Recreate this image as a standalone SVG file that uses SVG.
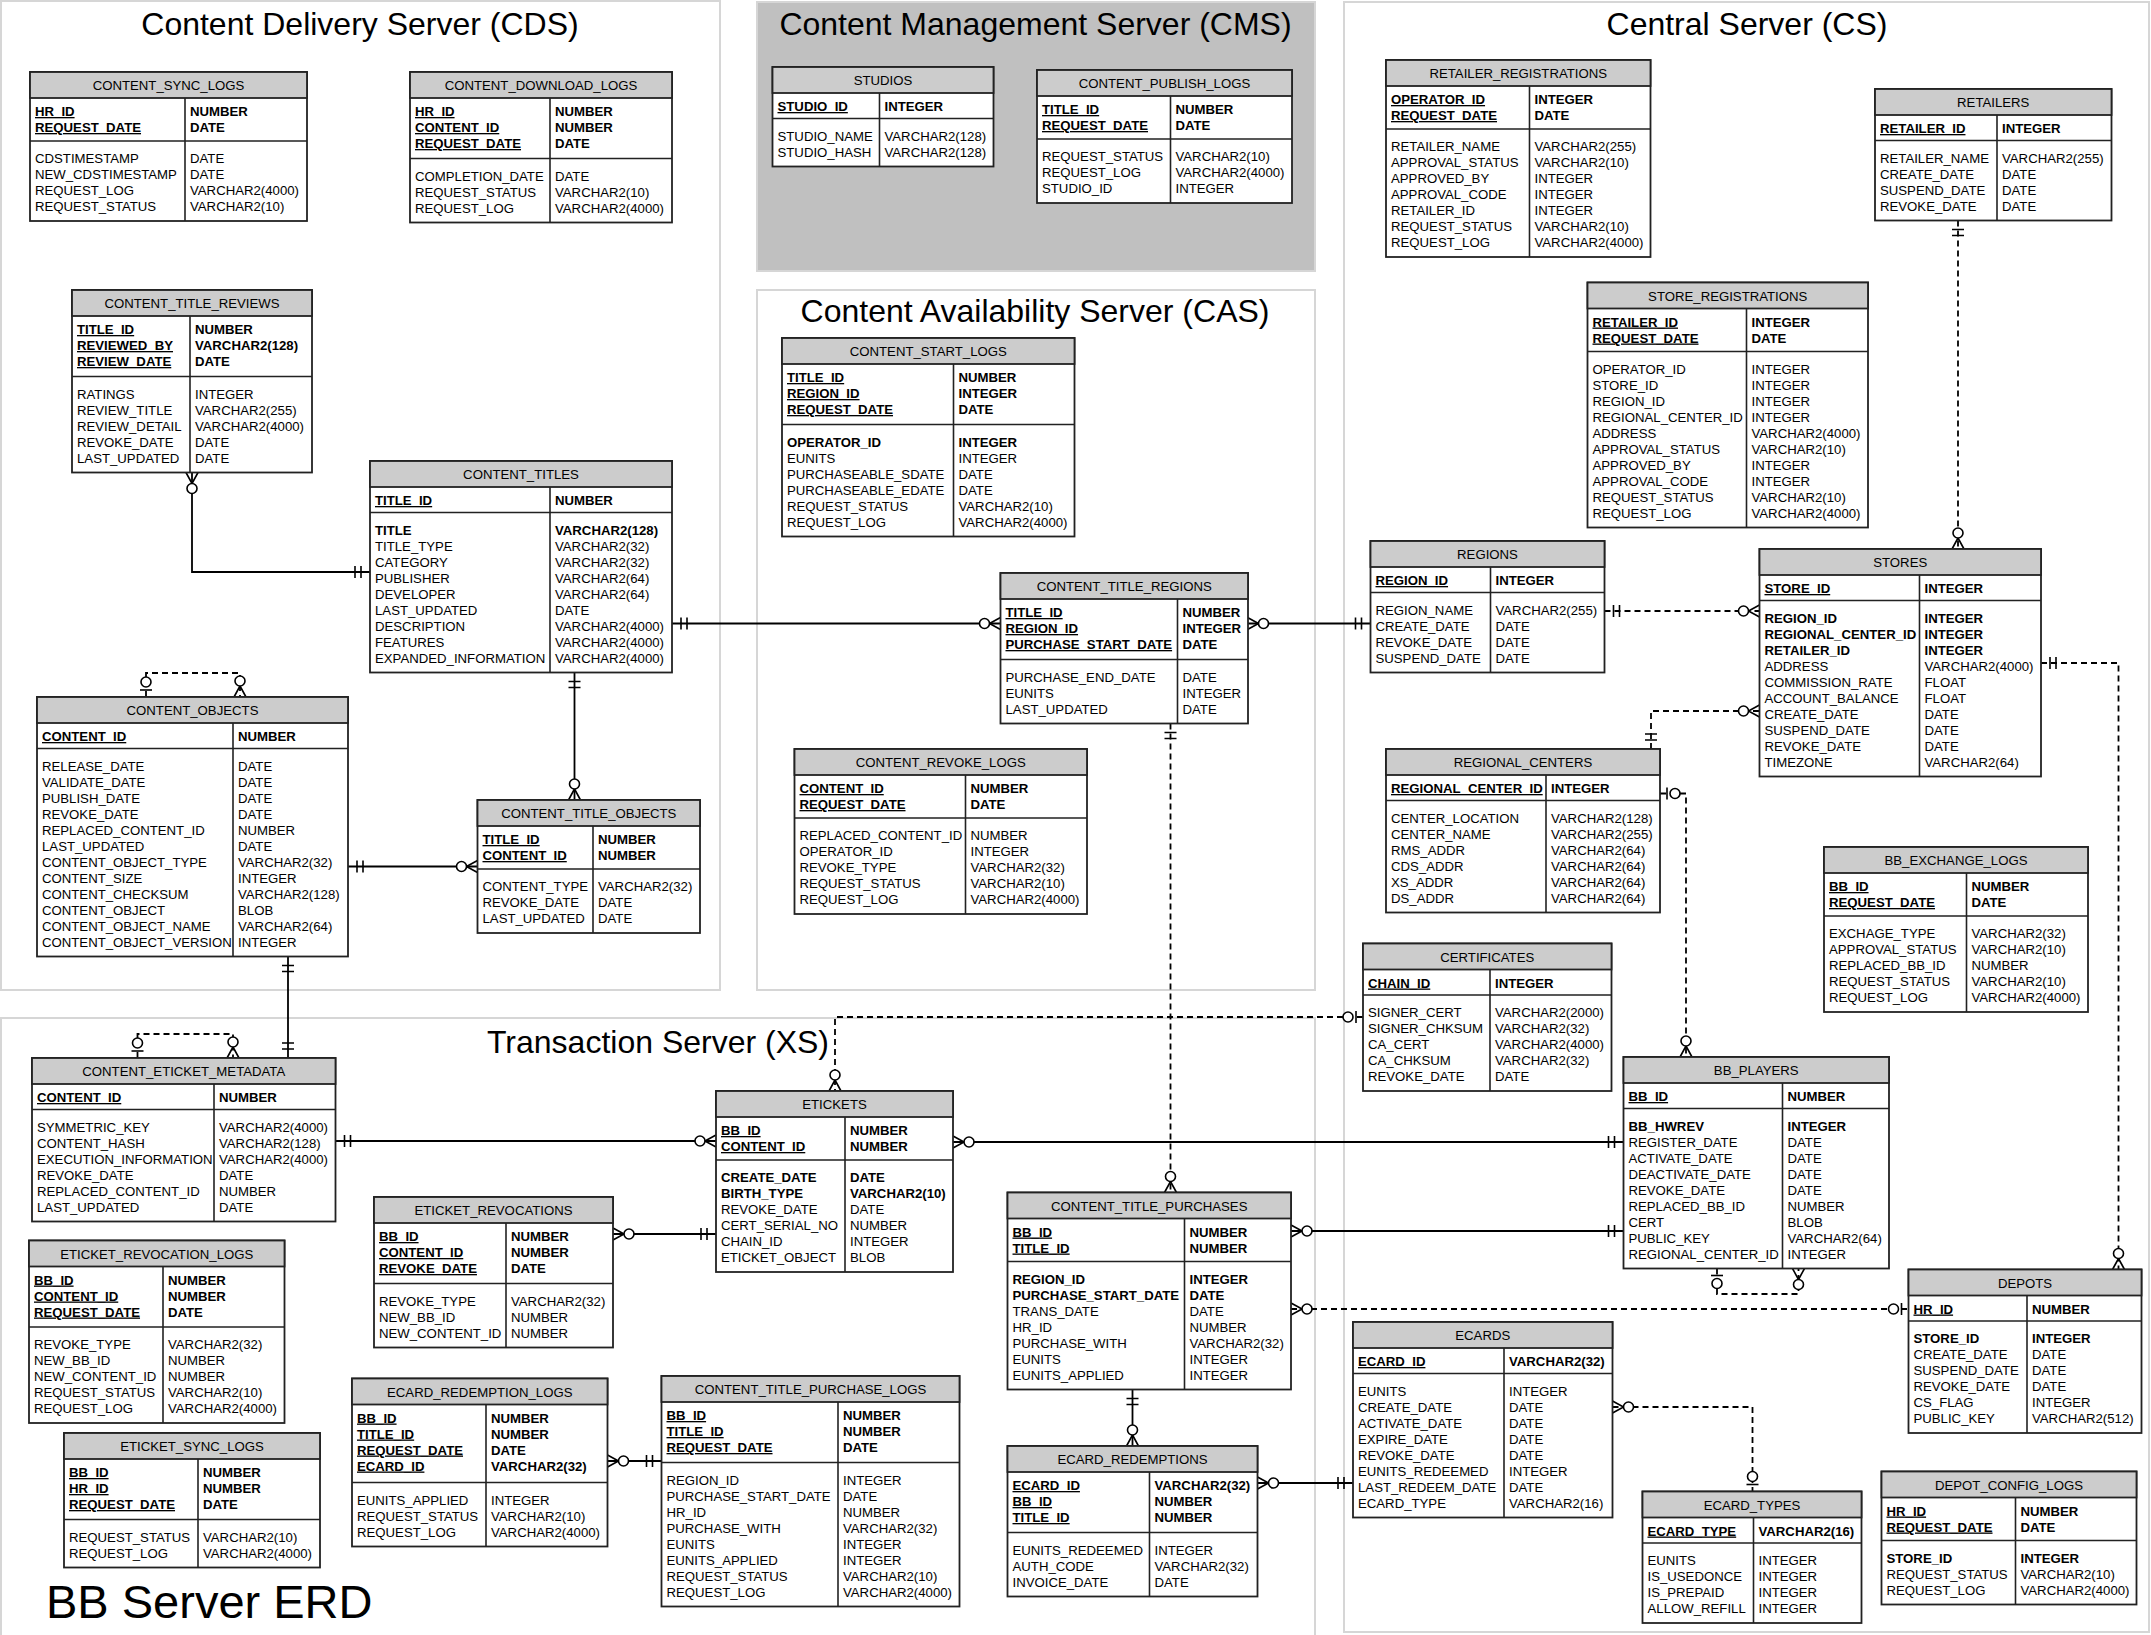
<svg xmlns="http://www.w3.org/2000/svg" width="2151" height="1635" viewBox="0 0 2151 1635">
<style>
.bx{fill:#fff;stroke:#222;stroke-width:1.8}
.hd{fill:#cccccc;stroke:#222;stroke-width:1.8}
.sep{fill:none;stroke:#222;stroke-width:1.6}
text{font-family:"Liberation Sans",Arial,sans-serif;font-size:13.2px;fill:#000}
.ht{text-anchor:middle}
.pk{font-weight:bold;text-decoration:underline}
.pt,.b{font-weight:bold}
.ttl{font-size:32px;text-anchor:middle;fill:#000}
.panel{fill:none;stroke:#d6d6d6;stroke-width:2}
.cms{fill:#c0c0c0;stroke:#d6d6d6;stroke-width:2}
.cn{fill:none;stroke:#000;stroke-width:1.8}
.dash{stroke-dasharray:6 4}
.mk{fill:none;stroke:#000;stroke-width:1.6}
.mc{fill:#fff;stroke:#000;stroke-width:1.6}
</style>
<defs>
<marker id="many" markerUnits="userSpaceOnUse" markerWidth="40" markerHeight="20" refX="0" refY="0" orient="auto-start-reverse" style="overflow:visible">
<path class="mk" d="M-11,0L0,-6M-11,0L0,6"/><circle class="mc" cx="-16" cy="0" r="5"/>
</marker>
<marker id="one" markerUnits="userSpaceOnUse" markerWidth="40" markerHeight="20" refX="0" refY="0" orient="auto-start-reverse" style="overflow:visible">
<path class="mk" d="M-9,-6V6M-15,-6V6"/>
</marker>
<marker id="zone" markerUnits="userSpaceOnUse" markerWidth="40" markerHeight="20" refX="0" refY="0" orient="auto-start-reverse" style="overflow:visible">
<path class="mk" d="M-7,-6V6"/><circle class="mc" cx="-15" cy="0" r="5"/>
</marker>
</defs>
<rect width="2151" height="1635" fill="#fff"/>
<g id="panels">
<rect class="panel" x="1" y="1" width="719" height="989"/>
<rect class="cms" x="757" y="2" width="558" height="269"/>
<rect class="panel" x="757" y="290" width="558" height="700"/>
<rect class="panel" x="1344" y="2" width="805" height="1630"/>
<rect class="panel" x="1" y="1018" width="1314" height="1614"/>
<text class="ttl" x="360" y="35">Content Delivery Server (CDS)</text>
<text class="ttl" x="1035.5" y="35">Content Management Server (CMS)</text>
<text class="ttl" x="1035" y="321.5">Content Availability Server (CAS)</text>
<text class="ttl" x="1747" y="35">Central Server (CS)</text>
<text class="ttl" x="658" y="1052.5">Transaction Server (XS)</text>
<text x="46" y="1618" style="font-size:47px;fill:#000">BB Server ERD</text>
</g>
<g id="connectors">
<path class="cn" d="M192,472.5V572H370" marker-start="url(#many)" marker-end="url(#one)"/>
<path class="cn" d="M672,623.5H1000.5" marker-start="url(#one)" marker-end="url(#many)"/>
<path class="cn" d="M574.5,672.5V800" marker-start="url(#one)" marker-end="url(#many)"/>
<path class="cn" d="M348,866.5H477.5" marker-start="url(#one)" marker-end="url(#many)"/>
<path class="cn dash" d="M146,697V673H240V697" marker-start="url(#zone)" marker-end="url(#many)"/>
<path class="cn" d="M288,956.5V1058" marker-start="url(#one)" marker-end="url(#one)"/>
<path class="cn dash" d="M137.5,1058V1034H233V1058" marker-start="url(#zone)" marker-end="url(#many)"/>
<path class="cn" d="M335.5,1141H716" marker-start="url(#one)" marker-end="url(#many)"/>
<path class="cn" d="M953,1142H1623.5" marker-start="url(#many)" marker-end="url(#one)"/>
<path class="cn" d="M613,1234H716" marker-start="url(#many)" marker-end="url(#one)"/>
<path class="cn" d="M607.5,1461H661.5" marker-start="url(#many)" marker-end="url(#one)"/>
<path class="cn" d="M1291,1231H1623.5" marker-start="url(#many)" marker-end="url(#one)"/>
<path class="cn dash" d="M1291,1309H1908.5" marker-start="url(#many)" marker-end="url(#zone)"/>
<path class="cn" d="M1132.5,1389.5V1446" marker-start="url(#one)" marker-end="url(#many)"/>
<path class="cn" d="M1257.5,1483H1353" marker-start="url(#many)" marker-end="url(#one)"/>
<path class="cn dash" d="M1612.5,1407H1752.5V1491.5" marker-start="url(#many)" marker-end="url(#zone)"/>
<path class="cn dash" d="M1717,1268.5V1294H1798.5V1268.5" marker-start="url(#zone)" marker-end="url(#many)"/>
<path class="cn dash" d="M1170.5,723.5V1192.5" marker-start="url(#one)" marker-end="url(#many)"/>
<path class="cn dash" d="M1363,1017H835V1091" marker-start="url(#zone)" marker-end="url(#many)"/>
<path class="cn dash" d="M1604.5,611H1759.5" marker-start="url(#one)" marker-end="url(#many)"/>
<path class="cn" d="M1247.5,623.5H1370.5" marker-start="url(#many)" marker-end="url(#one)"/>
<path class="cn dash" d="M1651,749V711H1759.5" marker-start="url(#one)" marker-end="url(#many)"/>
<path class="cn dash" d="M1660,793.5H1686V1057" marker-start="url(#zone)" marker-end="url(#many)"/>
<path class="cn dash" d="M2041,663H2118.5V1269.5" marker-start="url(#one)" marker-end="url(#many)"/>
<path class="cn dash" d="M1958,220.5V549" marker-start="url(#one)" marker-end="url(#many)"/>
</g>

<g id="content_sync_logs" transform="translate(30,72)">
<rect class="bx" width="277" height="149"/><rect class="hd" width="277" height="26"/>
<text class="ht" x="138.5" y="18">CONTENT_SYNC_LOGS</text>
<path class="sep" d="M0,69H277M155,26V149"/>
<text class="pk"><tspan x="5" y="44">HR_ID</tspan><tspan x="5" y="60">REQUEST_DATE</tspan></text>
<text class="pt"><tspan x="160" y="44">NUMBER</tspan><tspan x="160" y="60">DATE</tspan></text>
<text><tspan x="5" y="91">CDSTIMESTAMP</tspan><tspan x="5" y="107">NEW_CDSTIMESTAMP</tspan><tspan x="5" y="123">REQUEST_LOG</tspan><tspan x="5" y="139">REQUEST_STATUS</tspan></text>
<text><tspan x="160" y="91">DATE</tspan><tspan x="160" y="107">DATE</tspan><tspan x="160" y="123">VARCHAR2(4000)</tspan><tspan x="160" y="139">VARCHAR2(10)</tspan></text>
</g>

<g id="content_download_logs" transform="translate(410,72)">
<rect class="bx" width="262" height="150.5"/><rect class="hd" width="262" height="26"/>
<text class="ht" x="131" y="18">CONTENT_DOWNLOAD_LOGS</text>
<path class="sep" d="M0,86.5H262M140,26V150.5"/>
<text class="pk"><tspan x="5" y="44">HR_ID</tspan><tspan x="5" y="60">CONTENT_ID</tspan><tspan x="5" y="76">REQUEST_DATE</tspan></text>
<text class="pt"><tspan x="145" y="44">NUMBER</tspan><tspan x="145" y="60">NUMBER</tspan><tspan x="145" y="76">DATE</tspan></text>
<text><tspan x="5" y="108.5">COMPLETION_DATE</tspan><tspan x="5" y="124.5">REQUEST_STATUS</tspan><tspan x="5" y="140.5">REQUEST_LOG</tspan></text>
<text><tspan x="145" y="108.5">DATE</tspan><tspan x="145" y="124.5">VARCHAR2(10)</tspan><tspan x="145" y="140.5">VARCHAR2(4000)</tspan></text>
</g>

<g id="content_title_reviews" transform="translate(72,290)">
<rect class="bx" width="240" height="182.5"/><rect class="hd" width="240" height="26"/>
<text class="ht" x="120" y="18">CONTENT_TITLE_REVIEWS</text>
<path class="sep" d="M0,86.5H240M118,26V182.5"/>
<text class="pk"><tspan x="5" y="44">TITLE_ID</tspan><tspan x="5" y="60">REVIEWED_BY</tspan><tspan x="5" y="76">REVIEW_DATE</tspan></text>
<text class="pt"><tspan x="123" y="44">NUMBER</tspan><tspan x="123" y="60">VARCHAR2(128)</tspan><tspan x="123" y="76">DATE</tspan></text>
<text><tspan x="5" y="108.5">RATINGS</tspan><tspan x="5" y="124.5">REVIEW_TITLE</tspan><tspan x="5" y="140.5">REVIEW_DETAIL</tspan><tspan x="5" y="156.5">REVOKE_DATE</tspan><tspan x="5" y="172.5">LAST_UPDATED</tspan></text>
<text><tspan x="123" y="108.5">INTEGER</tspan><tspan x="123" y="124.5">VARCHAR2(255)</tspan><tspan x="123" y="140.5">VARCHAR2(4000)</tspan><tspan x="123" y="156.5">DATE</tspan><tspan x="123" y="172.5">DATE</tspan></text>
</g>

<g id="content_titles" transform="translate(370,461)">
<rect class="bx" width="302" height="211.5"/><rect class="hd" width="302" height="26"/>
<text class="ht" x="151" y="18">CONTENT_TITLES</text>
<path class="sep" d="M0,51.5H302M180,26V211.5"/>
<text class="pk"><tspan x="5" y="44">TITLE_ID</tspan></text>
<text class="pt"><tspan x="185" y="44">NUMBER</tspan></text>
<text><tspan x="5" y="73.5" class="b">TITLE</tspan><tspan x="5" y="89.5">TITLE_TYPE</tspan><tspan x="5" y="105.5">CATEGORY</tspan><tspan x="5" y="121.5">PUBLISHER</tspan><tspan x="5" y="137.5">DEVELOPER</tspan><tspan x="5" y="153.5">LAST_UPDATED</tspan><tspan x="5" y="169.5">DESCRIPTION</tspan><tspan x="5" y="185.5">FEATURES</tspan><tspan x="5" y="201.5">EXPANDED_INFORMATION</tspan></text>
<text><tspan x="185" y="73.5" class="b">VARCHAR2(128)</tspan><tspan x="185" y="89.5">VARCHAR2(32)</tspan><tspan x="185" y="105.5">VARCHAR2(32)</tspan><tspan x="185" y="121.5">VARCHAR2(64)</tspan><tspan x="185" y="137.5">VARCHAR2(64)</tspan><tspan x="185" y="153.5">DATE</tspan><tspan x="185" y="169.5">VARCHAR2(4000)</tspan><tspan x="185" y="185.5">VARCHAR2(4000)</tspan><tspan x="185" y="201.5">VARCHAR2(4000)</tspan></text>
</g>

<g id="content_objects" transform="translate(37,697)">
<rect class="bx" width="311" height="259.5"/><rect class="hd" width="311" height="26"/>
<text class="ht" x="155.5" y="18">CONTENT_OBJECTS</text>
<path class="sep" d="M0,51.5H311M196,26V259.5"/>
<text class="pk"><tspan x="5" y="44">CONTENT_ID</tspan></text>
<text class="pt"><tspan x="201" y="44">NUMBER</tspan></text>
<text><tspan x="5" y="73.5">RELEASE_DATE</tspan><tspan x="5" y="89.5">VALIDATE_DATE</tspan><tspan x="5" y="105.5">PUBLISH_DATE</tspan><tspan x="5" y="121.5">REVOKE_DATE</tspan><tspan x="5" y="137.5">REPLACED_CONTENT_ID</tspan><tspan x="5" y="153.5">LAST_UPDATED</tspan><tspan x="5" y="169.5">CONTENT_OBJECT_TYPE</tspan><tspan x="5" y="185.5">CONTENT_SIZE</tspan><tspan x="5" y="201.5">CONTENT_CHECKSUM</tspan><tspan x="5" y="217.5">CONTENT_OBJECT</tspan><tspan x="5" y="233.5">CONTENT_OBJECT_NAME</tspan><tspan x="5" y="249.5">CONTENT_OBJECT_VERSION</tspan></text>
<text><tspan x="201" y="73.5">DATE</tspan><tspan x="201" y="89.5">DATE</tspan><tspan x="201" y="105.5">DATE</tspan><tspan x="201" y="121.5">DATE</tspan><tspan x="201" y="137.5">NUMBER</tspan><tspan x="201" y="153.5">DATE</tspan><tspan x="201" y="169.5">VARCHAR2(32)</tspan><tspan x="201" y="185.5">INTEGER</tspan><tspan x="201" y="201.5">VARCHAR2(128)</tspan><tspan x="201" y="217.5">BLOB</tspan><tspan x="201" y="233.5">VARCHAR2(64)</tspan><tspan x="201" y="249.5">INTEGER</tspan></text>
</g>

<g id="content_title_objects" transform="translate(477.5,800)">
<rect class="bx" width="222.5" height="133"/><rect class="hd" width="222.5" height="26"/>
<text class="ht" x="111.25" y="18">CONTENT_TITLE_OBJECTS</text>
<path class="sep" d="M0,69H222.5M115.5,26V133"/>
<text class="pk"><tspan x="5" y="44">TITLE_ID</tspan><tspan x="5" y="60">CONTENT_ID</tspan></text>
<text class="pt"><tspan x="120.5" y="44">NUMBER</tspan><tspan x="120.5" y="60">NUMBER</tspan></text>
<text><tspan x="5" y="91">CONTENT_TYPE</tspan><tspan x="5" y="107">REVOKE_DATE</tspan><tspan x="5" y="123">LAST_UPDATED</tspan></text>
<text><tspan x="120.5" y="91">VARCHAR2(32)</tspan><tspan x="120.5" y="107">DATE</tspan><tspan x="120.5" y="123">DATE</tspan></text>
</g>

<g id="content_eticket_metadata" transform="translate(32,1058)">
<rect class="bx" width="303.5" height="163.5"/><rect class="hd" width="303.5" height="26"/>
<text class="ht" x="151.75" y="18">CONTENT_ETICKET_METADATA</text>
<path class="sep" d="M0,51.5H303.5M182,26V163.5"/>
<text class="pk"><tspan x="5" y="44">CONTENT_ID</tspan></text>
<text class="pt"><tspan x="187" y="44">NUMBER</tspan></text>
<text><tspan x="5" y="73.5">SYMMETRIC_KEY</tspan><tspan x="5" y="89.5">CONTENT_HASH</tspan><tspan x="5" y="105.5">EXECUTION_INFORMATION</tspan><tspan x="5" y="121.5">REVOKE_DATE</tspan><tspan x="5" y="137.5">REPLACED_CONTENT_ID</tspan><tspan x="5" y="153.5">LAST_UPDATED</tspan></text>
<text><tspan x="187" y="73.5">VARCHAR2(4000)</tspan><tspan x="187" y="89.5">VARCHAR2(128)</tspan><tspan x="187" y="105.5">VARCHAR2(4000)</tspan><tspan x="187" y="121.5">DATE</tspan><tspan x="187" y="137.5">NUMBER</tspan><tspan x="187" y="153.5">DATE</tspan></text>
</g>

<g id="eticket_revocation_logs" transform="translate(29,1240.5)">
<rect class="bx" width="255.5" height="182.5"/><rect class="hd" width="255.5" height="26"/>
<text class="ht" x="127.75" y="18">ETICKET_REVOCATION_LOGS</text>
<path class="sep" d="M0,86.5H255.5M134,26V182.5"/>
<text class="pk"><tspan x="5" y="44">BB_ID</tspan><tspan x="5" y="60">CONTENT_ID</tspan><tspan x="5" y="76">REQUEST_DATE</tspan></text>
<text class="pt"><tspan x="139" y="44">NUMBER</tspan><tspan x="139" y="60">NUMBER</tspan><tspan x="139" y="76">DATE</tspan></text>
<text><tspan x="5" y="108.5">REVOKE_TYPE</tspan><tspan x="5" y="124.5">NEW_BB_ID</tspan><tspan x="5" y="140.5">NEW_CONTENT_ID</tspan><tspan x="5" y="156.5">REQUEST_STATUS</tspan><tspan x="5" y="172.5">REQUEST_LOG</tspan></text>
<text><tspan x="139" y="108.5">VARCHAR2(32)</tspan><tspan x="139" y="124.5">NUMBER</tspan><tspan x="139" y="140.5">NUMBER</tspan><tspan x="139" y="156.5">VARCHAR2(10)</tspan><tspan x="139" y="172.5">VARCHAR2(4000)</tspan></text>
</g>

<g id="eticket_sync_logs" transform="translate(64,1433)">
<rect class="bx" width="256" height="134.5"/><rect class="hd" width="256" height="26"/>
<text class="ht" x="128" y="18">ETICKET_SYNC_LOGS</text>
<path class="sep" d="M0,86.5H256M134,26V134.5"/>
<text class="pk"><tspan x="5" y="44">BB_ID</tspan><tspan x="5" y="60">HR_ID</tspan><tspan x="5" y="76">REQUEST_DATE</tspan></text>
<text class="pt"><tspan x="139" y="44">NUMBER</tspan><tspan x="139" y="60">NUMBER</tspan><tspan x="139" y="76">DATE</tspan></text>
<text><tspan x="5" y="108.5">REQUEST_STATUS</tspan><tspan x="5" y="124.5">REQUEST_LOG</tspan></text>
<text><tspan x="139" y="108.5">VARCHAR2(10)</tspan><tspan x="139" y="124.5">VARCHAR2(4000)</tspan></text>
</g>

<g id="eticket_revocations" transform="translate(374,1197)">
<rect class="bx" width="239" height="150.5"/><rect class="hd" width="239" height="26"/>
<text class="ht" x="119.5" y="18">ETICKET_REVOCATIONS</text>
<path class="sep" d="M0,86.5H239M132,26V150.5"/>
<text class="pk"><tspan x="5" y="44">BB_ID</tspan><tspan x="5" y="60">CONTENT_ID</tspan><tspan x="5" y="76">REVOKE_DATE</tspan></text>
<text class="pt"><tspan x="137" y="44">NUMBER</tspan><tspan x="137" y="60">NUMBER</tspan><tspan x="137" y="76">DATE</tspan></text>
<text><tspan x="5" y="108.5">REVOKE_TYPE</tspan><tspan x="5" y="124.5">NEW_BB_ID</tspan><tspan x="5" y="140.5">NEW_CONTENT_ID</tspan></text>
<text><tspan x="137" y="108.5">VARCHAR2(32)</tspan><tspan x="137" y="124.5">NUMBER</tspan><tspan x="137" y="140.5">NUMBER</tspan></text>
</g>

<g id="ecard_redemption_logs" transform="translate(352,1378.5)">
<rect class="bx" width="255.5" height="168"/><rect class="hd" width="255.5" height="26"/>
<text class="ht" x="127.75" y="18">ECARD_REDEMPTION_LOGS</text>
<path class="sep" d="M0,104H255.5M134,26V168"/>
<text class="pk"><tspan x="5" y="44">BB_ID</tspan><tspan x="5" y="60">TITLE_ID</tspan><tspan x="5" y="76">REQUEST_DATE</tspan><tspan x="5" y="92">ECARD_ID</tspan></text>
<text class="pt"><tspan x="139" y="44">NUMBER</tspan><tspan x="139" y="60">NUMBER</tspan><tspan x="139" y="76">DATE</tspan><tspan x="139" y="92">VARCHAR2(32)</tspan></text>
<text><tspan x="5" y="126">EUNITS_APPLIED</tspan><tspan x="5" y="142">REQUEST_STATUS</tspan><tspan x="5" y="158">REQUEST_LOG</tspan></text>
<text><tspan x="139" y="126">INTEGER</tspan><tspan x="139" y="142">VARCHAR2(10)</tspan><tspan x="139" y="158">VARCHAR2(4000)</tspan></text>
</g>

<g id="content_title_purchase_logs" transform="translate(661.5,1376)">
<rect class="bx" width="298" height="230.5"/><rect class="hd" width="298" height="26"/>
<text class="ht" x="149" y="18">CONTENT_TITLE_PURCHASE_LOGS</text>
<path class="sep" d="M0,86.5H298M176.5,26V230.5"/>
<text class="pk"><tspan x="5" y="44">BB_ID</tspan><tspan x="5" y="60">TITLE_ID</tspan><tspan x="5" y="76">REQUEST_DATE</tspan></text>
<text class="pt"><tspan x="181.5" y="44">NUMBER</tspan><tspan x="181.5" y="60">NUMBER</tspan><tspan x="181.5" y="76">DATE</tspan></text>
<text><tspan x="5" y="108.5">REGION_ID</tspan><tspan x="5" y="124.5">PURCHASE_START_DATE</tspan><tspan x="5" y="140.5">HR_ID</tspan><tspan x="5" y="156.5">PURCHASE_WITH</tspan><tspan x="5" y="172.5">EUNITS</tspan><tspan x="5" y="188.5">EUNITS_APPLIED</tspan><tspan x="5" y="204.5">REQUEST_STATUS</tspan><tspan x="5" y="220.5">REQUEST_LOG</tspan></text>
<text><tspan x="181.5" y="108.5">INTEGER</tspan><tspan x="181.5" y="124.5">DATE</tspan><tspan x="181.5" y="140.5">NUMBER</tspan><tspan x="181.5" y="156.5">VARCHAR2(32)</tspan><tspan x="181.5" y="172.5">INTEGER</tspan><tspan x="181.5" y="188.5">INTEGER</tspan><tspan x="181.5" y="204.5">VARCHAR2(10)</tspan><tspan x="181.5" y="220.5">VARCHAR2(4000)</tspan></text>
</g>

<g id="etickets" transform="translate(716,1091)">
<rect class="bx" width="237" height="181"/><rect class="hd" width="237" height="26"/>
<text class="ht" x="118.5" y="18">ETICKETS</text>
<path class="sep" d="M0,69H237M129,26V181"/>
<text class="pk"><tspan x="5" y="44">BB_ID</tspan><tspan x="5" y="60">CONTENT_ID</tspan></text>
<text class="pt"><tspan x="134" y="44">NUMBER</tspan><tspan x="134" y="60">NUMBER</tspan></text>
<text><tspan x="5" y="91" class="b">CREATE_DATE</tspan><tspan x="5" y="107" class="b">BIRTH_TYPE</tspan><tspan x="5" y="123">REVOKE_DATE</tspan><tspan x="5" y="139">CERT_SERIAL_NO</tspan><tspan x="5" y="155">CHAIN_ID</tspan><tspan x="5" y="171">ETICKET_OBJECT</tspan></text>
<text><tspan x="134" y="91" class="b">DATE</tspan><tspan x="134" y="107" class="b">VARCHAR2(10)</tspan><tspan x="134" y="123">DATE</tspan><tspan x="134" y="139">NUMBER</tspan><tspan x="134" y="155">INTEGER</tspan><tspan x="134" y="171">BLOB</tspan></text>
</g>

<g id="content_title_purchases" transform="translate(1007.5,1192.5)">
<rect class="bx" width="283.5" height="197"/><rect class="hd" width="283.5" height="26"/>
<text class="ht" x="141.75" y="18">CONTENT_TITLE_PURCHASES</text>
<path class="sep" d="M0,69H283.5M177,26V197"/>
<text class="pk"><tspan x="5" y="44">BB_ID</tspan><tspan x="5" y="60">TITLE_ID</tspan></text>
<text class="pt"><tspan x="182" y="44">NUMBER</tspan><tspan x="182" y="60">NUMBER</tspan></text>
<text><tspan x="5" y="91" class="b">REGION_ID</tspan><tspan x="5" y="107" class="b">PURCHASE_START_DATE</tspan><tspan x="5" y="123">TRANS_DATE</tspan><tspan x="5" y="139">HR_ID</tspan><tspan x="5" y="155">PURCHASE_WITH</tspan><tspan x="5" y="171">EUNITS</tspan><tspan x="5" y="187">EUNITS_APPLIED</tspan></text>
<text><tspan x="182" y="91" class="b">INTEGER</tspan><tspan x="182" y="107" class="b">DATE</tspan><tspan x="182" y="123">DATE</tspan><tspan x="182" y="139">NUMBER</tspan><tspan x="182" y="155">VARCHAR2(32)</tspan><tspan x="182" y="171">INTEGER</tspan><tspan x="182" y="187">INTEGER</tspan></text>
</g>

<g id="ecard_redemptions" transform="translate(1007.5,1446)">
<rect class="bx" width="250" height="150.5"/><rect class="hd" width="250" height="26"/>
<text class="ht" x="125" y="18">ECARD_REDEMPTIONS</text>
<path class="sep" d="M0,86.5H250M142,26V150.5"/>
<text class="pk"><tspan x="5" y="44">ECARD_ID</tspan><tspan x="5" y="60">BB_ID</tspan><tspan x="5" y="76">TITLE_ID</tspan></text>
<text class="pt"><tspan x="147" y="44">VARCHAR2(32)</tspan><tspan x="147" y="60">NUMBER</tspan><tspan x="147" y="76">NUMBER</tspan></text>
<text><tspan x="5" y="108.5">EUNITS_REDEEMED</tspan><tspan x="5" y="124.5">AUTH_CODE</tspan><tspan x="5" y="140.5">INVOICE_DATE</tspan></text>
<text><tspan x="147" y="108.5">INTEGER</tspan><tspan x="147" y="124.5">VARCHAR2(32)</tspan><tspan x="147" y="140.5">DATE</tspan></text>
</g>

<g id="ecards" transform="translate(1353,1322)">
<rect class="bx" width="259.5" height="195.5"/><rect class="hd" width="259.5" height="26"/>
<text class="ht" x="129.75" y="18">ECARDS</text>
<path class="sep" d="M0,51.5H259.5M151,26V195.5"/>
<text class="pk"><tspan x="5" y="44">ECARD_ID</tspan></text>
<text class="pt"><tspan x="156" y="44">VARCHAR2(32)</tspan></text>
<text><tspan x="5" y="73.5">EUNITS</tspan><tspan x="5" y="89.5">CREATE_DATE</tspan><tspan x="5" y="105.5">ACTIVATE_DATE</tspan><tspan x="5" y="121.5">EXPIRE_DATE</tspan><tspan x="5" y="137.5">REVOKE_DATE</tspan><tspan x="5" y="153.5">EUNITS_REDEEMED</tspan><tspan x="5" y="169.5">LAST_REDEEM_DATE</tspan><tspan x="5" y="185.5">ECARD_TYPE</tspan></text>
<text><tspan x="156" y="73.5">INTEGER</tspan><tspan x="156" y="89.5">DATE</tspan><tspan x="156" y="105.5">DATE</tspan><tspan x="156" y="121.5">DATE</tspan><tspan x="156" y="137.5">DATE</tspan><tspan x="156" y="153.5">INTEGER</tspan><tspan x="156" y="169.5">DATE</tspan><tspan x="156" y="185.5">VARCHAR2(16)</tspan></text>
</g>

<g id="ecard_types" transform="translate(1642.5,1491.5)">
<rect class="bx" width="219" height="131.5"/><rect class="hd" width="219" height="26"/>
<text class="ht" x="109.5" y="18">ECARD_TYPES</text>
<path class="sep" d="M0,51.5H219M111,26V131.5"/>
<text class="pk"><tspan x="5" y="44">ECARD_TYPE</tspan></text>
<text class="pt"><tspan x="116" y="44">VARCHAR2(16)</tspan></text>
<text><tspan x="5" y="73.5">EUNITS</tspan><tspan x="5" y="89.5">IS_USEDONCE</tspan><tspan x="5" y="105.5">IS_PREPAID</tspan><tspan x="5" y="121.5">ALLOW_REFILL</tspan></text>
<text><tspan x="116" y="73.5">INTEGER</tspan><tspan x="116" y="89.5">INTEGER</tspan><tspan x="116" y="105.5">INTEGER</tspan><tspan x="116" y="121.5">INTEGER</tspan></text>
</g>

<g id="depot_config_logs" transform="translate(1881.5,1471.5)">
<rect class="bx" width="255" height="133"/><rect class="hd" width="255" height="26"/>
<text class="ht" x="127.5" y="18">DEPOT_CONFIG_LOGS</text>
<path class="sep" d="M0,69H255M134,26V133"/>
<text class="pk"><tspan x="5" y="44">HR_ID</tspan><tspan x="5" y="60">REQUEST_DATE</tspan></text>
<text class="pt"><tspan x="139" y="44">NUMBER</tspan><tspan x="139" y="60">DATE</tspan></text>
<text><tspan x="5" y="91" class="b">STORE_ID</tspan><tspan x="5" y="107">REQUEST_STATUS</tspan><tspan x="5" y="123">REQUEST_LOG</tspan></text>
<text><tspan x="139" y="91" class="b">INTEGER</tspan><tspan x="139" y="107">VARCHAR2(10)</tspan><tspan x="139" y="123">VARCHAR2(4000)</tspan></text>
</g>

<g id="depots" transform="translate(1908.5,1269.5)">
<rect class="bx" width="233" height="163.5"/><rect class="hd" width="233" height="26"/>
<text class="ht" x="116.5" y="18">DEPOTS</text>
<path class="sep" d="M0,51.5H233M118.5,26V163.5"/>
<text class="pk"><tspan x="5" y="44">HR_ID</tspan></text>
<text class="pt"><tspan x="123.5" y="44">NUMBER</tspan></text>
<text><tspan x="5" y="73.5" class="b">STORE_ID</tspan><tspan x="5" y="89.5">CREATE_DATE</tspan><tspan x="5" y="105.5">SUSPEND_DATE</tspan><tspan x="5" y="121.5">REVOKE_DATE</tspan><tspan x="5" y="137.5">CS_FLAG</tspan><tspan x="5" y="153.5">PUBLIC_KEY</tspan></text>
<text><tspan x="123.5" y="73.5" class="b">INTEGER</tspan><tspan x="123.5" y="89.5">DATE</tspan><tspan x="123.5" y="105.5">DATE</tspan><tspan x="123.5" y="121.5">DATE</tspan><tspan x="123.5" y="137.5">INTEGER</tspan><tspan x="123.5" y="153.5">VARCHAR2(512)</tspan></text>
</g>

<g id="bb_players" transform="translate(1623.5,1057)">
<rect class="bx" width="265.5" height="211.5"/><rect class="hd" width="265.5" height="26"/>
<text class="ht" x="132.75" y="18">BB_PLAYERS</text>
<path class="sep" d="M0,51.5H265.5M159,26V211.5"/>
<text class="pk"><tspan x="5" y="44">BB_ID</tspan></text>
<text class="pt"><tspan x="164" y="44">NUMBER</tspan></text>
<text><tspan x="5" y="73.5" class="b">BB_HWREV</tspan><tspan x="5" y="89.5">REGISTER_DATE</tspan><tspan x="5" y="105.5">ACTIVATE_DATE</tspan><tspan x="5" y="121.5">DEACTIVATE_DATE</tspan><tspan x="5" y="137.5">REVOKE_DATE</tspan><tspan x="5" y="153.5">REPLACED_BB_ID</tspan><tspan x="5" y="169.5">CERT</tspan><tspan x="5" y="185.5">PUBLIC_KEY</tspan><tspan x="5" y="201.5">REGIONAL_CENTER_ID</tspan></text>
<text><tspan x="164" y="73.5" class="b">INTEGER</tspan><tspan x="164" y="89.5">DATE</tspan><tspan x="164" y="105.5">DATE</tspan><tspan x="164" y="121.5">DATE</tspan><tspan x="164" y="137.5">DATE</tspan><tspan x="164" y="153.5">NUMBER</tspan><tspan x="164" y="169.5">BLOB</tspan><tspan x="164" y="185.5">VARCHAR2(64)</tspan><tspan x="164" y="201.5">INTEGER</tspan></text>
</g>

<g id="certificates" transform="translate(1363,943.5)">
<rect class="bx" width="248.5" height="147.5"/><rect class="hd" width="248.5" height="26"/>
<text class="ht" x="124.25" y="18">CERTIFICATES</text>
<path class="sep" d="M0,51.5H248.5M127,26V147.5"/>
<text class="pk"><tspan x="5" y="44">CHAIN_ID</tspan></text>
<text class="pt"><tspan x="132" y="44">INTEGER</tspan></text>
<text><tspan x="5" y="73.5">SIGNER_CERT</tspan><tspan x="5" y="89.5">SIGNER_CHKSUM</tspan><tspan x="5" y="105.5">CA_CERT</tspan><tspan x="5" y="121.5">CA_CHKSUM</tspan><tspan x="5" y="137.5">REVOKE_DATE</tspan></text>
<text><tspan x="132" y="73.5">VARCHAR2(2000)</tspan><tspan x="132" y="89.5">VARCHAR2(32)</tspan><tspan x="132" y="105.5">VARCHAR2(4000)</tspan><tspan x="132" y="121.5">VARCHAR2(32)</tspan><tspan x="132" y="137.5">DATE</tspan></text>
</g>

<g id="regional_centers" transform="translate(1386,749)">
<rect class="bx" width="274" height="163.5"/><rect class="hd" width="274" height="26"/>
<text class="ht" x="137" y="18">REGIONAL_CENTERS</text>
<path class="sep" d="M0,51.5H274M160,26V163.5"/>
<text class="pk"><tspan x="5" y="44">REGIONAL_CENTER_ID</tspan></text>
<text class="pt"><tspan x="165" y="44">INTEGER</tspan></text>
<text><tspan x="5" y="73.5">CENTER_LOCATION</tspan><tspan x="5" y="89.5">CENTER_NAME</tspan><tspan x="5" y="105.5">RMS_ADDR</tspan><tspan x="5" y="121.5">CDS_ADDR</tspan><tspan x="5" y="137.5">XS_ADDR</tspan><tspan x="5" y="153.5">DS_ADDR</tspan></text>
<text><tspan x="165" y="73.5">VARCHAR2(128)</tspan><tspan x="165" y="89.5">VARCHAR2(255)</tspan><tspan x="165" y="105.5">VARCHAR2(64)</tspan><tspan x="165" y="121.5">VARCHAR2(64)</tspan><tspan x="165" y="137.5">VARCHAR2(64)</tspan><tspan x="165" y="153.5">VARCHAR2(64)</tspan></text>
</g>

<g id="regions" transform="translate(1370.5,541)">
<rect class="bx" width="234" height="131.5"/><rect class="hd" width="234" height="26"/>
<text class="ht" x="117" y="18">REGIONS</text>
<path class="sep" d="M0,51.5H234M120,26V131.5"/>
<text class="pk"><tspan x="5" y="44">REGION_ID</tspan></text>
<text class="pt"><tspan x="125" y="44">INTEGER</tspan></text>
<text><tspan x="5" y="73.5">REGION_NAME</tspan><tspan x="5" y="89.5">CREATE_DATE</tspan><tspan x="5" y="105.5">REVOKE_DATE</tspan><tspan x="5" y="121.5">SUSPEND_DATE</tspan></text>
<text><tspan x="125" y="73.5">VARCHAR2(255)</tspan><tspan x="125" y="89.5">DATE</tspan><tspan x="125" y="105.5">DATE</tspan><tspan x="125" y="121.5">DATE</tspan></text>
</g>

<g id="stores" transform="translate(1759.5,549)">
<rect class="bx" width="281.5" height="227.5"/><rect class="hd" width="281.5" height="26"/>
<text class="ht" x="140.75" y="18">STORES</text>
<path class="sep" d="M0,51.5H281.5M160,26V227.5"/>
<text class="pk"><tspan x="5" y="44">STORE_ID</tspan></text>
<text class="pt"><tspan x="165" y="44">INTEGER</tspan></text>
<text><tspan x="5" y="73.5" class="b">REGION_ID</tspan><tspan x="5" y="89.5" class="b">REGIONAL_CENTER_ID</tspan><tspan x="5" y="105.5" class="b">RETAILER_ID</tspan><tspan x="5" y="121.5">ADDRESS</tspan><tspan x="5" y="137.5">COMMISSION_RATE</tspan><tspan x="5" y="153.5">ACCOUNT_BALANCE</tspan><tspan x="5" y="169.5">CREATE_DATE</tspan><tspan x="5" y="185.5">SUSPEND_DATE</tspan><tspan x="5" y="201.5">REVOKE_DATE</tspan><tspan x="5" y="217.5">TIMEZONE</tspan></text>
<text><tspan x="165" y="73.5" class="b">INTEGER</tspan><tspan x="165" y="89.5" class="b">INTEGER</tspan><tspan x="165" y="105.5" class="b">INTEGER</tspan><tspan x="165" y="121.5">VARCHAR2(4000)</tspan><tspan x="165" y="137.5">FLOAT</tspan><tspan x="165" y="153.5">FLOAT</tspan><tspan x="165" y="169.5">DATE</tspan><tspan x="165" y="185.5">DATE</tspan><tspan x="165" y="201.5">DATE</tspan><tspan x="165" y="217.5">VARCHAR2(64)</tspan></text>
</g>

<g id="bb_exchange_logs" transform="translate(1824,847)">
<rect class="bx" width="264" height="165"/><rect class="hd" width="264" height="26"/>
<text class="ht" x="132" y="18">BB_EXCHANGE_LOGS</text>
<path class="sep" d="M0,69H264M142.5,26V165"/>
<text class="pk"><tspan x="5" y="44">BB_ID</tspan><tspan x="5" y="60">REQUEST_DATE</tspan></text>
<text class="pt"><tspan x="147.5" y="44">NUMBER</tspan><tspan x="147.5" y="60">DATE</tspan></text>
<text><tspan x="5" y="91">EXCHAGE_TYPE</tspan><tspan x="5" y="107">APPROVAL_STATUS</tspan><tspan x="5" y="123">REPLACED_BB_ID</tspan><tspan x="5" y="139">REQUEST_STATUS</tspan><tspan x="5" y="155">REQUEST_LOG</tspan></text>
<text><tspan x="147.5" y="91">VARCHAR2(32)</tspan><tspan x="147.5" y="107">VARCHAR2(10)</tspan><tspan x="147.5" y="123">NUMBER</tspan><tspan x="147.5" y="139">VARCHAR2(10)</tspan><tspan x="147.5" y="155">VARCHAR2(4000)</tspan></text>
</g>

<g id="retailers" transform="translate(1875,89)">
<rect class="bx" width="236.5" height="131.5"/><rect class="hd" width="236.5" height="26"/>
<text class="ht" x="118.25" y="18">RETAILERS</text>
<path class="sep" d="M0,51.5H236.5M122,26V131.5"/>
<text class="pk"><tspan x="5" y="44">RETAILER_ID</tspan></text>
<text class="pt"><tspan x="127" y="44">INTEGER</tspan></text>
<text><tspan x="5" y="73.5">RETAILER_NAME</tspan><tspan x="5" y="89.5">CREATE_DATE</tspan><tspan x="5" y="105.5">SUSPEND_DATE</tspan><tspan x="5" y="121.5">REVOKE_DATE</tspan></text>
<text><tspan x="127" y="73.5">VARCHAR2(255)</tspan><tspan x="127" y="89.5">DATE</tspan><tspan x="127" y="105.5">DATE</tspan><tspan x="127" y="121.5">DATE</tspan></text>
</g>

<g id="store_registrations" transform="translate(1587.5,282.5)">
<rect class="bx" width="280.5" height="245"/><rect class="hd" width="280.5" height="26"/>
<text class="ht" x="140.25" y="18">STORE_REGISTRATIONS</text>
<path class="sep" d="M0,69H280.5M159,26V245"/>
<text class="pk"><tspan x="5" y="44">RETAILER_ID</tspan><tspan x="5" y="60">REQUEST_DATE</tspan></text>
<text class="pt"><tspan x="164" y="44">INTEGER</tspan><tspan x="164" y="60">DATE</tspan></text>
<text><tspan x="5" y="91">OPERATOR_ID</tspan><tspan x="5" y="107">STORE_ID</tspan><tspan x="5" y="123">REGION_ID</tspan><tspan x="5" y="139">REGIONAL_CENTER_ID</tspan><tspan x="5" y="155">ADDRESS</tspan><tspan x="5" y="171">APPROVAL_STATUS</tspan><tspan x="5" y="187">APPROVED_BY</tspan><tspan x="5" y="203">APPROVAL_CODE</tspan><tspan x="5" y="219">REQUEST_STATUS</tspan><tspan x="5" y="235">REQUEST_LOG</tspan></text>
<text><tspan x="164" y="91">INTEGER</tspan><tspan x="164" y="107">INTEGER</tspan><tspan x="164" y="123">INTEGER</tspan><tspan x="164" y="139">INTEGER</tspan><tspan x="164" y="155">VARCHAR2(4000)</tspan><tspan x="164" y="171">VARCHAR2(10)</tspan><tspan x="164" y="187">INTEGER</tspan><tspan x="164" y="203">INTEGER</tspan><tspan x="164" y="219">VARCHAR2(10)</tspan><tspan x="164" y="235">VARCHAR2(4000)</tspan></text>
</g>

<g id="retailer_registrations" transform="translate(1386,60)">
<rect class="bx" width="264.5" height="197"/><rect class="hd" width="264.5" height="26"/>
<text class="ht" x="132.25" y="18">RETAILER_REGISTRATIONS</text>
<path class="sep" d="M0,69H264.5M143.5,26V197"/>
<text class="pk"><tspan x="5" y="44">OPERATOR_ID</tspan><tspan x="5" y="60">REQUEST_DATE</tspan></text>
<text class="pt"><tspan x="148.5" y="44">INTEGER</tspan><tspan x="148.5" y="60">DATE</tspan></text>
<text><tspan x="5" y="91">RETAILER_NAME</tspan><tspan x="5" y="107">APPROVAL_STATUS</tspan><tspan x="5" y="123">APPROVED_BY</tspan><tspan x="5" y="139">APPROVAL_CODE</tspan><tspan x="5" y="155">RETAILER_ID</tspan><tspan x="5" y="171">REQUEST_STATUS</tspan><tspan x="5" y="187">REQUEST_LOG</tspan></text>
<text><tspan x="148.5" y="91">VARCHAR2(255)</tspan><tspan x="148.5" y="107">VARCHAR2(10)</tspan><tspan x="148.5" y="123">INTEGER</tspan><tspan x="148.5" y="139">INTEGER</tspan><tspan x="148.5" y="155">INTEGER</tspan><tspan x="148.5" y="171">VARCHAR2(10)</tspan><tspan x="148.5" y="187">VARCHAR2(4000)</tspan></text>
</g>

<g id="studios" transform="translate(772.5,67)">
<rect class="bx" width="221" height="99.5"/><rect class="hd" width="221" height="26"/>
<text class="ht" x="110.5" y="18">STUDIOS</text>
<path class="sep" d="M0,51.5H221M107,26V99.5"/>
<text class="pk"><tspan x="5" y="44">STUDIO_ID</tspan></text>
<text class="pt"><tspan x="112" y="44">INTEGER</tspan></text>
<text><tspan x="5" y="73.5">STUDIO_NAME</tspan><tspan x="5" y="89.5">STUDIO_HASH</tspan></text>
<text><tspan x="112" y="73.5">VARCHAR2(128)</tspan><tspan x="112" y="89.5">VARCHAR2(128)</tspan></text>
</g>

<g id="content_publish_logs" transform="translate(1037,70)">
<rect class="bx" width="255" height="133"/><rect class="hd" width="255" height="26"/>
<text class="ht" x="127.5" y="18">CONTENT_PUBLISH_LOGS</text>
<path class="sep" d="M0,69H255M133.5,26V133"/>
<text class="pk"><tspan x="5" y="44">TITLE_ID</tspan><tspan x="5" y="60">REQUEST_DATE</tspan></text>
<text class="pt"><tspan x="138.5" y="44">NUMBER</tspan><tspan x="138.5" y="60">DATE</tspan></text>
<text><tspan x="5" y="91">REQUEST_STATUS</tspan><tspan x="5" y="107">REQUEST_LOG</tspan><tspan x="5" y="123">STUDIO_ID</tspan></text>
<text><tspan x="138.5" y="91">VARCHAR2(10)</tspan><tspan x="138.5" y="107">VARCHAR2(4000)</tspan><tspan x="138.5" y="123">INTEGER</tspan></text>
</g>

<g id="content_start_logs" transform="translate(782,338)">
<rect class="bx" width="292.5" height="198.5"/><rect class="hd" width="292.5" height="26"/>
<text class="ht" x="146.25" y="18">CONTENT_START_LOGS</text>
<path class="sep" d="M0,86.5H292.5M171.5,26V198.5"/>
<text class="pk"><tspan x="5" y="44">TITLE_ID</tspan><tspan x="5" y="60">REGION_ID</tspan><tspan x="5" y="76">REQUEST_DATE</tspan></text>
<text class="pt"><tspan x="176.5" y="44">NUMBER</tspan><tspan x="176.5" y="60">INTEGER</tspan><tspan x="176.5" y="76">DATE</tspan></text>
<text><tspan x="5" y="108.5" class="b">OPERATOR_ID</tspan><tspan x="5" y="124.5">EUNITS</tspan><tspan x="5" y="140.5">PURCHASEABLE_SDATE</tspan><tspan x="5" y="156.5">PURCHASEABLE_EDATE</tspan><tspan x="5" y="172.5">REQUEST_STATUS</tspan><tspan x="5" y="188.5">REQUEST_LOG</tspan></text>
<text><tspan x="176.5" y="108.5" class="b">INTEGER</tspan><tspan x="176.5" y="124.5">INTEGER</tspan><tspan x="176.5" y="140.5">DATE</tspan><tspan x="176.5" y="156.5">DATE</tspan><tspan x="176.5" y="172.5">VARCHAR2(10)</tspan><tspan x="176.5" y="188.5">VARCHAR2(4000)</tspan></text>
</g>

<g id="content_title_regions" transform="translate(1000.5,573)">
<rect class="bx" width="247.5" height="150.5"/><rect class="hd" width="247.5" height="26"/>
<text class="ht" x="123.75" y="18">CONTENT_TITLE_REGIONS</text>
<path class="sep" d="M0,86.5H247.5M177,26V150.5"/>
<text class="pk"><tspan x="5" y="44">TITLE_ID</tspan><tspan x="5" y="60">REGION_ID</tspan><tspan x="5" y="76">PURCHASE_START_DATE</tspan></text>
<text class="pt"><tspan x="182" y="44">NUMBER</tspan><tspan x="182" y="60">INTEGER</tspan><tspan x="182" y="76">DATE</tspan></text>
<text><tspan x="5" y="108.5">PURCHASE_END_DATE</tspan><tspan x="5" y="124.5">EUNITS</tspan><tspan x="5" y="140.5">LAST_UPDATED</tspan></text>
<text><tspan x="182" y="108.5">DATE</tspan><tspan x="182" y="124.5">INTEGER</tspan><tspan x="182" y="140.5">DATE</tspan></text>
</g>

<g id="content_revoke_logs" transform="translate(794.5,749)">
<rect class="bx" width="292.5" height="165"/><rect class="hd" width="292.5" height="26"/>
<text class="ht" x="146.25" y="18">CONTENT_REVOKE_LOGS</text>
<path class="sep" d="M0,69H292.5M171,26V165"/>
<text class="pk"><tspan x="5" y="44">CONTENT_ID</tspan><tspan x="5" y="60">REQUEST_DATE</tspan></text>
<text class="pt"><tspan x="176" y="44">NUMBER</tspan><tspan x="176" y="60">DATE</tspan></text>
<text><tspan x="5" y="91">REPLACED_CONTENT_ID</tspan><tspan x="5" y="107">OPERATOR_ID</tspan><tspan x="5" y="123">REVOKE_TYPE</tspan><tspan x="5" y="139">REQUEST_STATUS</tspan><tspan x="5" y="155">REQUEST_LOG</tspan></text>
<text><tspan x="176" y="91">NUMBER</tspan><tspan x="176" y="107">INTEGER</tspan><tspan x="176" y="123">VARCHAR2(32)</tspan><tspan x="176" y="139">VARCHAR2(10)</tspan><tspan x="176" y="155">VARCHAR2(4000)</tspan></text>
</g>
</svg>
